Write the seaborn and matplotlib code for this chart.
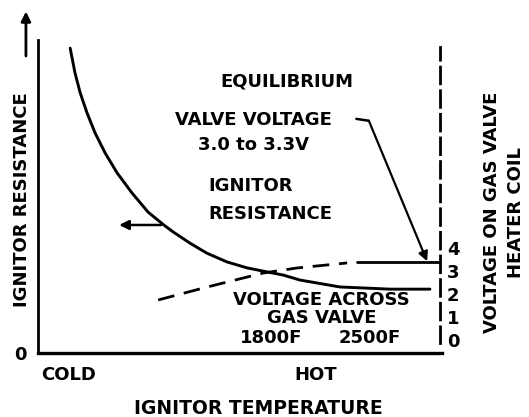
import numpy as np
import pandas as pd
import matplotlib
matplotlib.use("Agg")
import matplotlib.pyplot as plt
import seaborn as sns

# ignitor temperature, 0 = cold .. 100 = hot (relative scale)
res_temp = [8.0, 9.2, 10.5, 12.2, 14.2, 16.7, 19.7, 23.4, 27.4, 31.3, 33.6, 37.8,
            42.0, 47.0, 52.0, 57.0, 61.0, 65.2, 75.1, 87.6, 97.5]
# ignitor resistance (relative units)
res_value = [97.4, 89.5, 83.1, 76.7, 70.3, 63.9, 57.5, 51.1, 45.0, 40.9, 38.7, 35.1,
             31.9, 29.1, 27.2, 25.9, 24.9, 23.3, 21.1, 20.4, 20.4]

# voltage across gas valve (V), rising part (dashed) and equilibrium part (solid)
volt_temp = [29.9, 42.0, 56.0, 64.4, 76.9]
volt_value = [1.74, 2.30, 2.91, 3.13, 3.35]
equil_temp = [79.4, 100.0]
equil_value = [3.39, 3.39]

volt_ticks = [0, 1, 2, 3, 4]
temp_ticks = [7.7, 69.2]
temp_labels = ["COLD", "HOT"]

sns.set_style("white")
plt.rcParams["font.family"] = ["DejaVu Sans"]
plt.rcParams["font.weight"] = "bold"
plt.rcParams["text.color"] = "black"
plt.rcParams["axes.labelcolor"] = "black"
plt.rcParams["xtick.color"] = "black"
plt.rcParams["ytick.color"] = "black"

W, H = 529, 417
fig = plt.figure(figsize=(W / 100, H / 100), dpi=100)
ax = fig.add_axes([38 / W, (H - 353) / H, (440 - 38) / W, (353 - 40) / H])
ax2 = ax.twinx()

res = pd.DataFrame({"temp": res_temp, "resistance": res_value})
volt = pd.DataFrame({"temp": volt_temp, "voltage": volt_value})
equil = pd.DataFrame({"temp": equil_temp, "voltage": equil_value})

sns.lineplot(data=res, x="temp", y="resistance", ax=ax, color="black", lw=2.1, sort=False)
sns.lineplot(data=volt, x="temp", y="voltage", ax=ax2, color="black", lw=2.0,
             sort=False).lines[0].set_dashes((6, 3.5))
sns.lineplot(data=equil, x="temp", y="voltage", ax=ax2, color="black", lw=2.0, sort=False)

ax.set_xlim(0, 100)
ax.set_ylim(0, 100)
ax2.set_ylim(-0.565, 13.04)

# spines
for s in ["top", "right"]:
    ax.spines[s].set_visible(False)
for s in ["top", "left", "bottom"]:
    ax2.spines[s].set_visible(False)
ax.spines["left"].set_linewidth(2.0)
ax.spines["bottom"].set_linewidth(2.4)
ax.spines["left"].set_color("black")
ax.spines["bottom"].set_color("black")
ax.spines["bottom"].set_bounds(0, 100.5)
ax2.spines["right"].set_color("black")
ax2.spines["right"].set_linewidth(2.0)
ax2.spines["right"].set_linestyle((0, (6, 2.5)))
ax2.spines["right"].set_bounds(-0.13, 12.74)

fs = 13
ax.set_yticks([0])
ax.set_yticklabels(["0"], fontsize=fs, fontweight="bold")
ax.tick_params(axis="y", length=0, pad=8)
ax.set_xticks(temp_ticks)
ax.set_xticklabels(temp_labels, fontsize=fs, fontweight="bold")
ax.tick_params(axis="x", length=0, pad=9)
ax2.set_yticks(volt_ticks)
ax2.set_yticklabels([str(v) for v in volt_ticks], fontsize=fs, fontweight="bold")
ax2.tick_params(axis="y", length=0, pad=5)

ax.set_xlabel("IGNITOR TEMPERATURE", fontsize=13.5, fontweight="bold")
ax.xaxis.set_label_coords(0.547, -0.147)
ax.set_ylabel("")
ax2.set_ylabel("")
ax.text(-0.04, 0.489, "IGNITOR RESISTANCE", transform=ax.transAxes, rotation=90,
        ha="center", va="center", fontsize=fs, fontweight="bold")
ax.annotate("", xy=(-0.030, 1.10), xytext=(-0.030, 0.94), xycoords="axes fraction",
            annotation_clip=False,
            arrowprops=dict(arrowstyle="-|>", color="black", lw=2.0, mutation_scale=14))
ax.text(1.16, 0.45, "VOLTAGE ON GAS VALVE\nHEATER COIL", transform=ax.transAxes,
        rotation=90, ha="center", va="center", multialignment="center",
        linespacing=1.45, fontsize=fs, fontweight="bold")

# annotations
kw = dict(fontsize=fs, fontweight="bold", va="center")
ax.text(61.9, 86.6, "EQUILIBRIUM", ha="center", **kw)
ax.text(53.7, 74.4, "VALVE VOLTAGE", ha="center", **kw)
ax.text(53.7, 66.5, "3.0 to 3.3V", ha="center", **kw)
ax.text(42.3, 53.4, "IGNITOR", ha="left", **kw)
ax.text(42.3, 44.4, "RESISTANCE", ha="left", **kw)
ax.text(70.6, 16.9, "VOLTAGE ACROSS", ha="center", **kw)
ax.text(70.6, 11.2, "GAS VALVE", ha="center", **kw)
ax.text(58.0, 4.8, "1800F", ha="center", **kw)
ax.text(82.6, 4.8, "2500F", ha="center", **kw)

# arrow pointing to resistance scale
ax.annotate("", xy=(19.5, 40.9), xytext=(31.3, 40.9),
            arrowprops=dict(arrowstyle="-|>", color="black", lw=1.8, mutation_scale=14))
# valve voltage pointer
ax.plot([79.2, 82.3], [74.8, 74.2], color="black", lw=1.8, solid_capstyle="round")
ax.annotate("", xy=(96.8, 29.3), xytext=(82.3, 74.2),
            arrowprops=dict(arrowstyle="-|>", color="black", lw=1.6, mutation_scale=14,
                            shrinkA=0, shrinkB=0))

fig.savefig("out.png", dpi=100)
